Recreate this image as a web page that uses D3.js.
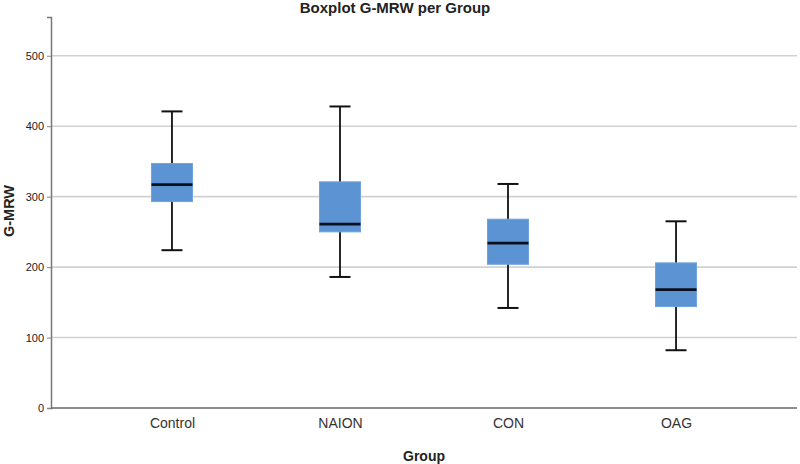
<!DOCTYPE html>
<html><head><meta charset="utf-8">
<script src="https://cdn.jsdelivr.net/npm/d3@7"></script>
<style>body{margin:0;background:#fff}svg{display:block}</style>
</head><body><svg id="c" width="800" height="464"></svg>
<script>
const categories = ["Control", "NAION", "CON", "OAG"];
const whiskerLow  = [224, 186, 142, 82];
const q1          = [293, 250, 204, 144];
const median      = [317, 261, 234, 168];
const q3          = [347, 321, 268, 206];
const whiskerHigh = [421, 428, 318, 265];
const yTicks = [0, 100, 200, 300, 400, 500];

(function () {
const svg = d3.select("#c");
const pL = 51, pR = 797, pT = 17, pB = 408;
const font = "Liberation Sans, Arial, sans-serif";
const x = d3.scalePoint().domain(categories).range([pL, pR]).padding(0.72);
const y = d3.scaleLinear().domain([0, 555]).range([pB, pT]);

// gridlines
svg.append("g").selectAll("line").data(yTicks.filter(d => d > 0)).join("line")
  .attr("x1", pL).attr("x2", pR).attr("y1", d => y(d)).attr("y2", d => y(d))
  .attr("stroke", "#d2d2d2").attr("stroke-width", 1.6);

// y axis
const ya = svg.append("g").attr("transform", `translate(${pL},0)`)
  .call(d3.axisLeft(y).tickValues(yTicks).tickSize(4).tickPadding(3));
ya.select(".domain").attr("stroke", "#777").attr("stroke-width", 1.5);
ya.selectAll(".tick line").attr("stroke", "#888");
ya.selectAll("text").attr("font-family", font).attr("font-size", 11).attr("fill", "#222");

// x axis
const xa = svg.append("g").attr("transform", `translate(0,${pB})`)
  .call(d3.axisBottom(x).tickSize(0).tickPadding(10));
xa.select(".domain").attr("stroke", "#666").attr("stroke-width", 1.5).attr("d", `M${pL},0H${pR}`);
xa.selectAll("text").attr("font-family", font).attr("font-size", 14).attr("fill", "#333");

const data = categories.map((c, i) => ({c, lo: whiskerLow[i], q1: q1[i], med: median[i], q3: q3[i], hi: whiskerHigh[i]}));
const bw = 41, cw = 21;
const g = svg.append("g").selectAll("g").data(data).join("g");
g.append("line").attr("x1", d => x(d.c)).attr("x2", d => x(d.c))
  .attr("y1", d => y(d.hi)).attr("y2", d => y(d.lo)).attr("stroke", "#111").attr("stroke-width", 1.8);
g.append("line").attr("x1", d => x(d.c) - cw/2).attr("x2", d => x(d.c) + cw/2)
  .attr("y1", d => y(d.hi)).attr("y2", d => y(d.hi)).attr("stroke", "#111").attr("stroke-width", 2);
g.append("line").attr("x1", d => x(d.c) - cw/2).attr("x2", d => x(d.c) + cw/2)
  .attr("y1", d => y(d.lo)).attr("y2", d => y(d.lo)).attr("stroke", "#111").attr("stroke-width", 2);
g.append("rect").attr("x", d => x(d.c) - bw/2).attr("width", bw)
  .attr("y", d => y(d.q3)).attr("height", d => y(d.q1) - y(d.q3))
  .attr("fill", "#5b93d3").attr("stroke", "#6fa3dc").attr("stroke-width", 1);
g.append("line").attr("x1", d => x(d.c) - bw/2).attr("x2", d => x(d.c) + bw/2)
  .attr("y1", d => y(d.med)).attr("y2", d => y(d.med)).attr("stroke", "#0a0f1e").attr("stroke-width", 2.8);

// titles
svg.append("text").attr("x", 395).attr("y", 13).attr("text-anchor", "middle")
  .attr("font-family", font).attr("font-weight", "bold").attr("font-size", 15).attr("fill", "#222")
  .text("Boxplot G-MRW per Group");
svg.append("text").attr("x", 424).attr("y", 461).attr("text-anchor", "middle")
  .attr("font-family", font).attr("font-weight", "bold").attr("font-size", 14).attr("fill", "#222")
  .text("Group");
svg.append("text").attr("transform", "translate(13.5,211) rotate(-90)").attr("text-anchor", "middle")
  .attr("font-family", font).attr("font-weight", "bold").attr("font-size", 14.5).attr("fill", "#222")
  .text("G-MRW");
})();
</script></body></html>
